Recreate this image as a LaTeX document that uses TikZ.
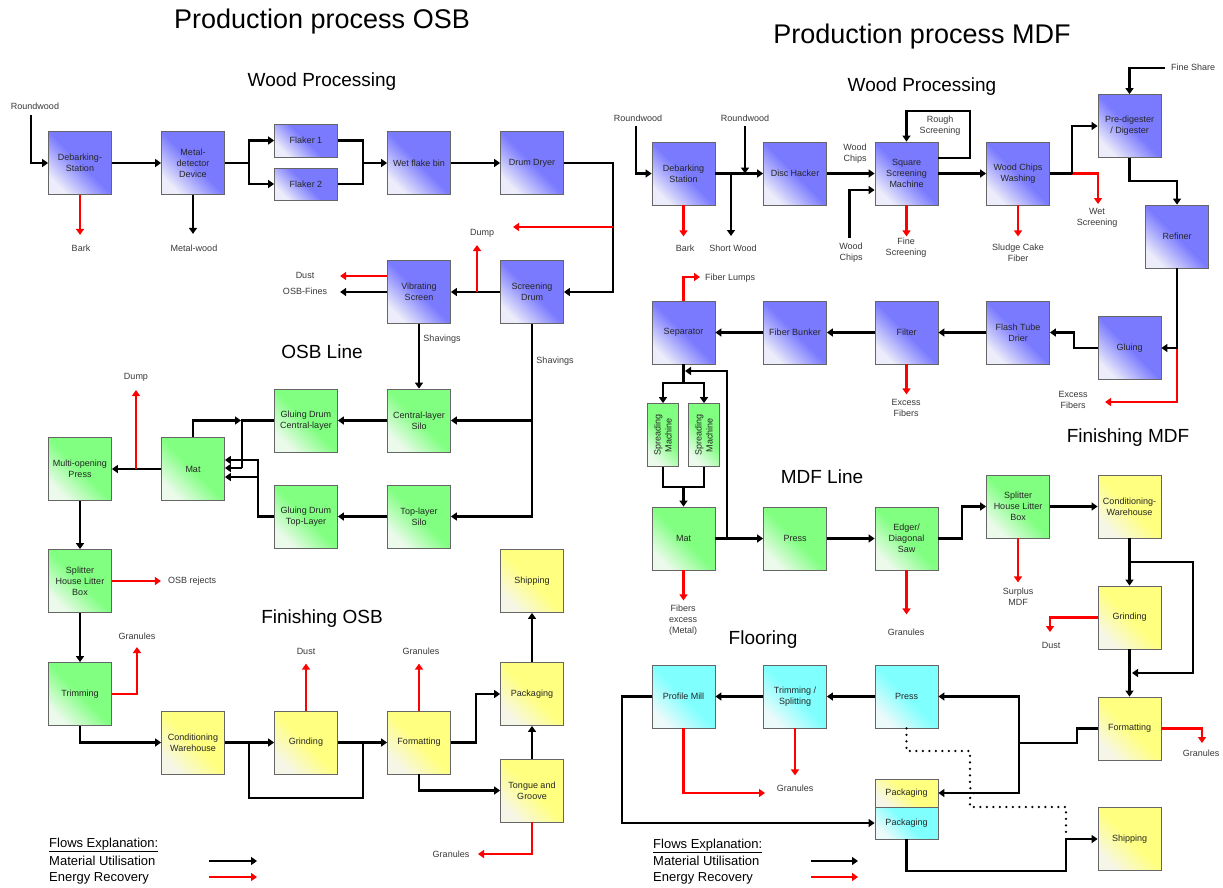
\documentclass[tikz,border=0pt]{standalone}
\usepackage{fontspec}
\setmainfont{Liberation Sans}
\usetikzlibrary{arrows.meta}
\newcommand\fs{\fontsize{9}{11}\selectfont}
\newcommand\fsec{\fontsize{19}{22}\selectfont}
\newcommand\fttl{\fontsize{27}{30}\selectfont}
\newcommand\fleg{\fontsize{13}{15.5}\selectfont}
\definecolor{bS}{RGB}{122,122,255}
\definecolor{bL}{RGB}{236,236,250}
\definecolor{gS}{RGB}{128,255,128}
\definecolor{gL}{RGB}{236,250,236}
\definecolor{yS}{RGB}{255,255,128}
\definecolor{yL}{RGB}{246,246,232}
\definecolor{cS}{RGB}{128,255,255}
\definecolor{cL}{RGB}{236,250,250}
\definecolor{rL}{RGB}{255,0,0}
\tikzset{
  box/.style={draw=black!60, line width=0.8pt, minimum width=63pt, minimum height=63pt, inner sep=1pt, align=center, font=\fs, text=black!85},
  bluebox/.style={box, bottom color=bL, top color=bS, middle color=bS, shading angle=-45},
  greenbox/.style={box, bottom color=gL, top color=gS, middle color=gS, shading angle=-45},
  yellowbox/.style={box, bottom color=yL, top color=yS, middle color=yS, shading angle=-45},
  cyanbox/.style={box, bottom color=cL, top color=cS, middle color=cS, shading angle=-45},
  lbl/.style={font=\fs, text=black!78, align=center, inner sep=0pt},
  ttl/.style={font=\fttl, inner sep=0pt},
  sec/.style={font=\fsec, inner sep=0pt},
  leg/.style={font=\fleg, inner sep=0pt, anchor=west},
  line/.style={line width=2.4pt, black},
  flow/.style={line, -{Triangle[length=6pt,width=8pt]}},
  rline/.style={line width=2.4pt, rL},
  rflow/.style={rline, -{Triangle[length=6pt,width=8pt]}},
  dots/.style={line width=2.6pt, dash pattern=on 0pt off 6.5pt, line cap=round}
}
\begin{document}
\begin{tikzpicture}[x=1pt,y=-1pt]
\useasboundingbox[fill=white] (0,0) rectangle (1223,887);

% ---------------- Titles ----------------
\node[ttl] (t1) at (322,22) {Production process OSB};
\node[ttl] (t2) at (922,37) {Production process MDF};
\node[sec] (s1) at (322,82) {Wood Processing};
\node[sec] (s2) at (922,87) {Wood Processing};
\node[sec] (s3) at (322,352) {OSB Line};
\node[sec] (s4) at (322,619) {Finishing OSB};
\node[sec] (s5) at (1128,438) {Finishing MDF};
\node[sec] (s6) at (822,477) {MDF Line};
\node[sec] (s7) at (763,640) {Flooring};

% ---------------- OSB boxes ----------------
\node[bluebox] (deb) at (80,163) {Debarking-\\Station};
\node[bluebox] (met) at (193,163) {Metal-\\detector\\Device};
\node[bluebox, minimum height=33pt] (fl1) at (306,140.5) {Flaker 1};
\node[bluebox, minimum height=32pt] (fl2) at (306,184) {Flaker 2};
\node[bluebox] (wfb) at (419,163) {Wet flake bin};
\node[bluebox] (dd) at (532,163) {Drum Dryer};
\node[bluebox] (vs) at (419,292) {Vibrating\\Screen};
\node[bluebox] (sd) at (532,292) {Screening\\Drum};
\node[greenbox] (gdc) at (306,420.5) {Gluing Drum\\Central-layer};
\node[greenbox] (cls) at (419,420.5) {Central-layer\\Silo};
\node[greenbox] (mop) at (80,469) {Multi-opening\\Press};
\node[greenbox] (mat) at (193,469) {Mat};
\node[greenbox] (gdt) at (306,516.5) {Gluing Drum\\Top-Layer};
\node[greenbox] (tls) at (419,516.5) {Top-layer\\Silo};
\node[greenbox] (spl) at (80,581) {Splitter\\House Litter\\Box};
\node[greenbox] (tri) at (80,694) {Trimming};
\node[yellowbox] (cw) at (193,742.5) {Conditioning\\Warehouse};
\node[yellowbox] (gri) at (306,742.5) {Grinding};
\node[yellowbox] (fmt) at (419,742.5) {Formatting};
\node[yellowbox] (shp) at (532,581) {Shipping};
\node[yellowbox] (pkg) at (532,694) {Packaging};
\node[yellowbox] (tg) at (532,790.5) {Tongue and\\Groove};

% ---------------- OSB labels ----------------
\node[lbl] (lrw) at (35,106) {Roundwood};
\node[lbl] (lbark) at (81,248) {Bark};
\node[lbl] (lmw) at (194,248) {Metal-wood};
\node[lbl] (ldump1) at (482,233) {Dump};
\node[lbl] (ldust1) at (305,275) {Dust};
\node[lbl] (lfines) at (305,291) {OSB-Fines};
\node[lbl] (lsh1) at (442,339) {Shavings};
\node[lbl] (lsh2) at (555,361) {Shavings};
\node[lbl] (ldump2) at (136,377) {Dump};
\node[lbl, anchor=west] (lrej) at (168,581) {OSB rejects};
\node[lbl] (lgr1) at (137,636) {Granules};
\node[lbl] (ldust2) at (306,651) {Dust};
\node[lbl] (lgr2) at (421,651) {Granules};
\node[lbl] (lgr3) at (451,854) {Granules};

% ---------------- OSB connectors ----------------
\coordinate (rw1) at (31,115);
\draw[flow] (rw1) |- (deb.west);
\draw[flow] (deb.east) -- (met.west);
\draw[rflow] (deb.south) -- ++(0,40);
\draw[flow] (met.south) -- ++(0,39);
\coordinate (j1) at (249,163);
\draw[line] (met.east) -- (j1);
\draw[flow] (j1) |- (fl1.west);
\draw[flow] (j1) |- (fl2.west);
\coordinate (j2) at (363,163);
\draw[line] (fl1.east) -| (j2);
\draw[line] (fl2.east) -| (j2);
\draw[flow] (j2) -- (wfb.west);
\draw[flow] (wfb.east) -- (dd.west);
\coordinate (j3) at (613,163);
\draw[flow] (dd.east) -- (j3) |- (sd.east);
\draw[rflow] (613,227) -- (513,227);
\draw[flow] (sd.west) -- (vs.east);
\draw[rflow] (477,292) -- (477,245);
\draw[flow] (vs.west) -- ++(-47,0);
\draw[rflow] (vs.west |- 0,276) -- ++(-47,0);
\draw[flow] (vs.south) -- (cls.north);
\draw[flow] (sd.south) |- (tls.east);
\draw[flow] (sd.south |- cls.east) -- (cls.east);
\draw[flow] (cls.west) -- (gdc.east);
\draw[flow] (tls.west) -- (gdt.east);
\draw[flow] (mat.north) |- (241,420.5);
\draw[line] (gdc.west) -- (242,420.5) -- (242,468);
\draw[flow] (242,468) -- (mat.east |- 0,468);
\draw[flow] (gdt.west) -- (258,516.5) -- (258,460) -- (mat.east |- 0,460);
\draw[flow] (258,477) -- (mat.east |- 0,477);
\draw[flow] (mat.west) -- (mop.east);
\draw[rflow] (136,469) -- (136,390);
\draw[flow] (mop.south) -- (spl.north);
\draw[rflow] (spl.east) -- ++(49,0);
\draw[flow] (spl.south) -- (tri.north);
\draw[rflow] (tri.east) -| (137,647);
\draw[flow] (tri.south) |- (cw.west);
\draw[flow] (cw.east) -- (gri.west);
\draw[line] (249,742.5) |- (363,798) -- (363,742.5);
\draw[flow] (gri.east) -- (fmt.west);
\draw[rflow] (gri.north) -- ++(0,-47);
\draw[rflow] (fmt.north) -- ++(0,-47);
\draw[flow] (fmt.east) -- (476,742.5) |- (pkg.west);
\draw[flow] (fmt.south) |- (tg.west);
\draw[flow] (tg.north) -- (pkg.south);
\draw[flow] (pkg.north) -- (shp.south);
\draw[rflow] (tg.south) |- (478,854);

% ---------------- OSB legend ----------------
\node[leg] (fe1) at (49,845) {\underline{Flows Explanation:}};
\node[leg] (mu1) at (49,861) {Material Utilisation};
\node[leg] (er1) at (49,878) {Energy Recovery};
\draw[flow] (209,861) -- (257,861);
\draw[rflow] (209,877) -- (257,877);

% ---------------- MDF boxes ----------------
\node[bluebox] (mdeb) at (683.5,173.5) {Debarking\\Station};
\node[bluebox] (dh) at (795,173.5) {Disc Hacker};
\node[bluebox] (ssm) at (906.5,173.5) {Square\\Screening\\Machine};
\node[bluebox] (wcw) at (1018,173.5) {Wood Chips\\Washing};
\node[bluebox] (pdd) at (1129.5,126) {Pre-digester\\/ Digester};
\node[bluebox] (ref) at (1177,236.5) {Refiner};
\node[bluebox] (sep) at (683.5,332.5) {Separator};
\node[bluebox] (fb) at (795,332.5) {Fiber Bunker};
\node[bluebox] (fil) at (906.5,332.5) {Filter};
\node[bluebox] (ftd) at (1018,332.5) {Flash Tube\\Drier};
\node[bluebox] (glu) at (1129.5,348) {Gluing};
\node[greenbox, minimum width=31pt] (sp1) at (663,435) {};
\node[greenbox, minimum width=31pt] (sp2) at (704,435) {};
\node[lbl, rotate=90, text=black!85] (sp1t) at (sp1) {Spreading\\Machine};
\node[lbl, rotate=90, text=black!85] (sp2t) at (sp2) {Spreading\\Machine};
\node[greenbox] (mmat) at (683.5,538.5) {Mat};
\node[greenbox] (mpress) at (795,538.5) {Press};
\node[greenbox] (edg) at (906.5,538.5) {Edger/\\Diagonal\\Saw};
\node[greenbox] (mspl) at (1018,506.5) {Splitter\\House Litter\\Box};
\node[yellowbox] (mcw) at (1129.5,506.5) {Conditioning-\\Warehouse};
\node[yellowbox] (mgri) at (1129.5,617.5) {Grinding};
\node[yellowbox] (mfmt) at (1129.5,728.5) {Formatting};
\node[cyanbox] (pm) at (683.5,696.5) {Profile Mill};
\node[cyanbox] (ts) at (795,696.5) {Trimming /\\Splitting};
\node[cyanbox] (fpress) at (906.5,696.5) {Press};
\node[yellowbox, minimum height=28pt] (pky) at (906.5,793) {Packaging};
\node[cyanbox, minimum height=32pt] (pkc) at (906.5,823) {Packaging};
\node[yellowbox] (mship) at (1129.5,839) {Shipping};

% ---------------- MDF labels ----------------
\node[lbl] (mrw1) at (638,118) {Roundwood};
\node[lbl] (mrw2) at (745,118) {Roundwood};
\node[lbl] (mbark) at (685,248) {Bark};
\node[lbl] (msw) at (733,248) {Short Wood};
\node[lbl] (mwc1) at (855,154) {Wood\\Chips};
\node[lbl] (mwc2) at (851,253) {Wood\\Chips};
\node[lbl] (mrs) at (940,126) {Rough\\Screening};
\node[lbl] (mfs) at (906,248) {Fine\\Screening};
\node[lbl] (msc) at (1018,253) {Sludge Cake\\Fiber};
\node[lbl] (mws) at (1097,218) {Wet\\Screening};
\node[lbl, anchor=west] (mfsh) at (1171,67) {Fine Share};
\node[lbl, anchor=west] (mfl) at (705,278) {Fiber Lumps};
\node[lbl] (mef1) at (906,408) {Excess\\Fibers};
\node[lbl] (mef2) at (1073,400) {Excess\\Fibers};
\node[lbl] (mfe) at (683,620) {Fibers\\excess\\(Metal)};
\node[lbl] (mgr1) at (906,632) {Granules};
\node[lbl] (msm) at (1018,597) {Surplus\\MDF};
\node[lbl] (mdust) at (1051,645) {Dust};
\node[lbl] (mgr2) at (1201,753) {Granules};
\node[lbl] (mgr3) at (795,788) {Granules};

% ---------------- MDF connectors ----------------
\draw[flow] (636,126) |- (mdeb.west);
\draw[flow] (mdeb.east) -- (dh.west);
\draw[flow] (745,126) -- (745,173.5);
\draw[flow] (731,173.5) -- (731,236);
\draw[rflow] (mdeb.south) -- ++(0,31);
\draw[flow] (dh.east) -- (ssm.west);
\draw[flow] (849.5,238) |- (ssm.west |- 0,190);
\draw[flow] (ssm.east |- 0,158) -- (970,158) -- (970,111) -| (ssm.north);
\draw[rflow] (ssm.south) -- ++(0,31);
\draw[flow] (ssm.east) -- (wcw.west);
\draw[rflow] (wcw.south) -- ++(0,31);
\coordinate (k1) at (1072,173.5);
\draw[rflow] (k1) -| (1098,204);
\draw[line] (wcw.east) -- (k1);
\draw[flow] (k1) |- (pdd.west);
\draw[flow] (1165,68) -| (pdd.north);
\draw[flow] (pdd.south) -- (1129.5,181) -| (ref.north);
\draw[rflow] (ref.south |- glu.east) |- (1105,402);
\draw[flow] (ref.south) |- (glu.east);
\draw[flow] (glu.west) -- (1074,348) |- (ftd.east);
\draw[flow] (ftd.west) -- (fil.east);
\draw[flow] (fil.west) -- (fb.east);
\draw[flow] (fb.west) -- (sep.east);
\draw[rflow] (fil.south) -- ++(0,30);
\draw[rflow] (sep.north) |- (700,277);
\coordinate (k2) at (683.5,383);
\draw[line] (sep.south) -- (k2);
\draw[flow] (k2) -| (sp1.north);
\draw[flow] (k2) -| (sp2.north);
\coordinate (k3) at (683.5,487);
\draw[line] (sp1.south) |- (k3);
\draw[line] (sp2.south) |- (k3);
\draw[flow] (k3) -- (mmat.north);
\draw[flow] (mmat.east) -- (mpress.west);
\draw[flow] (727,538.5) |- (685,371);
\draw[rflow] (mmat.south) -- ++(0,30);
\draw[flow] (mpress.east) -- (edg.west);
\draw[flow] (edg.east) -- (962,538.5) |- (mspl.west);
\draw[rflow] (edg.south) -- ++(0,44);
\draw[flow] (mspl.east) -- (mcw.west);
\draw[rflow] (mspl.south) -- ++(0,44);
\draw[flow] (mcw.south) -- (mgri.north);
\draw[flow] (mcw.south |- 0,562) -- (1193,562) |- (1132,673);
\draw[flow] (mgri.south) -- (mfmt.north);
\draw[rflow] (mgri.west) -| (1050,632);
\draw[rflow] (mfmt.east) -| (1202,743);
\coordinate (k4) at (1019,743);
\draw[line] (mfmt.west) -- (1077,728.5) |- (k4);
\draw[flow] (k4) |- (fpress.east);
\draw[flow] (k4) |- (pky.east);
\draw[flow] (fpress.west) -- (ts.east);
\draw[flow] (ts.west) -- (pm.east);
\draw[rflow] (ts.south) -- ++(0,47);
\draw[rflow] (pm.south) |- (765,793);
\draw[flow] (pm.west) -- (622,696.5) |- (pkc.west);
\draw[flow] (pkc.south) |- (1066,871) -- (1066,839) -- (mship.west);
\draw[dots] (fpress.south) |- (970,751) -- (970,788) .. controls (975,788) and (975,798) .. (970,798) -- (970,807) -| (1066,836);

% ---------------- MDF legend ----------------
\node[leg] (fe2) at (653,846) {\underline{Flows Explanation:}};
\node[leg] (mu2) at (653,861) {Material Utilisation};
\node[leg] (er2) at (653,878) {Energy Recovery};
\draw[flow] (811,861) -- (858,861);
\draw[rflow] (811,877) -- (858,877);
\end{tikzpicture}
\end{document}
